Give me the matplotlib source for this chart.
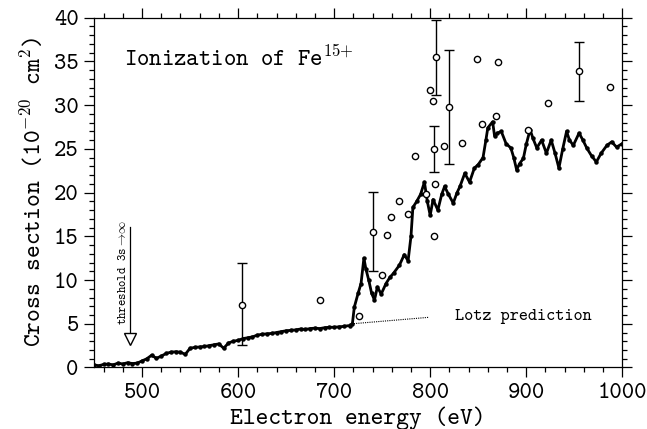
import matplotlib
matplotlib.use("Agg")
import matplotlib.pyplot as plt
from matplotlib.ticker import MultipleLocator

plt.rcParams['font.family'] = ['cmtt10', 'DejaVu Sans Mono']
plt.rcParams['mathtext.fontset'] = 'cm'
plt.rcParams['axes.unicode_minus'] = False

# Measured cross section (dense data)
energy = [450, 455, 460, 465, 470, 475, 480, 485, 490, 495, 500, 505, 510, 515, 520,
          525, 530, 535, 540, 545, 550, 555, 560, 565, 570, 575, 580, 585, 590, 595,
          600, 605, 610, 615, 620, 625, 630, 635, 640, 645, 650, 655, 660, 665, 670,
          675, 680, 685, 690, 695, 700, 705, 710, 716, 719, 721, 725, 728, 731, 733,
          736, 739, 742, 745, 749, 754, 758, 762, 768, 773, 777, 780, 782, 786, 790,
          794, 797, 800, 803, 808, 812, 815, 819, 824, 828, 831, 836, 841, 846, 850,
          855, 858, 860, 865, 867, 870, 874, 879, 884, 887, 890, 893, 897, 900, 904,
          907, 911, 916, 921, 926, 930, 934, 938, 942, 945, 949, 955, 959, 963, 968,
          973, 978, 984, 989, 994, 1000]
sigma = [0.3, 0.2, 0.35, 0.4, 0.3, 0.5, 0.4, 0.55, 0.45, 0.5, 0.75, 1.0, 1.4, 1.05, 1.3,
         1.6, 1.75, 1.8, 1.75, 1.5, 2.2, 2.3, 2.35, 2.4, 2.5, 2.6, 2.7, 2.2, 2.8, 3.0,
         3.1, 3.3, 3.4, 3.5, 3.7, 3.8, 3.85, 3.9, 4.0, 4.1, 4.2, 4.25, 4.3, 4.4, 4.35,
         4.45, 4.5, 4.45, 4.55, 4.6, 4.6, 4.65, 4.7, 4.8, 5.0, 6.9, 8.5, 9.6, 12.5, 11.3,
         10.0, 8.5, 7.7, 9.2, 8.4, 9.6, 10.3, 10.8, 11.7, 12.9, 12.2, 15.0, 18.3, 19.0, 19.8,
         21.2, 19.0, 17.4, 19.2, 18.0, 19.8, 20.7, 19.8, 18.8, 20.0, 20.7, 22.2, 21.2, 22.8, 23.2,
         24.0, 26.0, 27.4, 28.1, 26.5, 26.8, 27.0, 25.6, 25.1, 24.0, 22.6, 23.3, 23.9, 25.5, 27.2,
         26.2, 25.1, 26.0, 24.5, 26.0, 24.5, 22.8, 25.0, 27.0, 26.0, 25.4, 26.8, 26.0, 25.1, 24.2,
         23.5, 24.5, 25.4, 25.8, 25.2, 25.6]

# Open circles (other measurement)
circ_e = [685.5, 726.4, 750.1, 755.3, 758.8, 767.8, 776.8, 784.1, 795.2, 799.4, 803.2,
          804.3, 805.0, 814.0, 833.5, 849.1, 853.9, 868.9, 870.3, 902.3, 923.1, 986.7]
circ_s = [7.7, 5.85, 10.6, 15.15, 17.25, 19.0, 17.5, 24.2, 19.8, 31.7, 30.5,
          15.0, 21.0, 25.3, 25.7, 35.3, 27.8, 28.7, 34.9, 27.1, 30.2, 32.1]

# Circles with error bars
err_e = [604.5, 740.3, 805.6, 804.3, 819.2, 955.0]
err_s = [7.2, 15.5, 35.5, 25.0, 29.8, 33.9]
err_lo = [4.6, 4.5, 4.3, 2.7, 6.5, 3.4]
err_hi = [4.75, 4.6, 4.2, 2.65, 6.5, 3.3]

# Lotz prediction
lotz_e = [716, 799]
lotz_s = [4.97, 5.74]

fig = plt.figure(figsize=(6.47, 4.29), dpi=100)
ax = fig.add_axes([0.1453, 0.1434, 0.8165, 0.8154])

ax.plot(energy, sigma, color='black', lw=2.0, marker='o', ms=2.2, solid_joinstyle='round')
ax.plot(lotz_e, lotz_s, color='black', lw=0.8, ls=(0, (1, 1)))
ax.plot(circ_e, circ_s, ls='none', marker='o', ms=4.5, mfc='white', mec='black', mew=1.0)
ax.errorbar(err_e, err_s, yerr=[err_lo, err_hi], fmt='o', ms=4.5, mfc='white', mec='black',
            mew=1.0, ecolor='black', elinewidth=1.0, capsize=3.5, capthick=1.0)

# threshold arrow
ax.plot([487.8, 487.8], [16.1, 3.9], color='black', lw=0.9)
ax.plot([487.8], [3.25], marker='v', ms=9, mfc='white', mec='black', mew=1.0, ls='none')
ax.text(480.0, 10.9, r'threshold 3s$\rightarrow\!\infty$', rotation=90,
        ha='center', va='center', fontsize=8.8)

ax.text(825.6, 5.8, 'Lotz prediction', fontsize=12.5, ha='left', va='center')
ax.text(481.6, 35.3, r'Ionization of Fe$^{\mathtt{15{+}}}$', fontsize=17, ha='left', va='center')

ax.set_xlim(450, 1000)
ax.set_ylim(0, 40)
ax.xaxis.set_major_locator(MultipleLocator(100))
ax.xaxis.set_minor_locator(MultipleLocator(20))
ax.yaxis.set_major_locator(MultipleLocator(5))
ax.yaxis.set_minor_locator(MultipleLocator(1))
ax.tick_params(which='both', direction='out', top=True, right=True, labelsize=17, width=0.9)
ax.tick_params(which='major', length=7, pad=4)
ax.tick_params(which='minor', length=3.5)
for s in ax.spines.values():
    s.set_linewidth(0.9)

ax.set_xlabel('Electron energy (eV)', fontsize=17.5, labelpad=2)
ax.set_ylabel(r'Cross section (10$^{\mathtt{-20}}$ cm$^{\mathtt{2}}$)', fontsize=17.5, labelpad=5)

fig.savefig('out.png', dpi=100)
